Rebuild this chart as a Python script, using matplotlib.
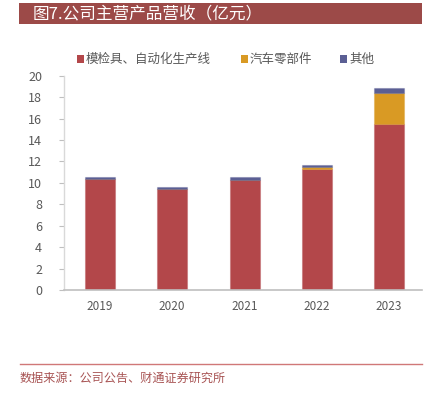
import matplotlib.pyplot as plt
from matplotlib.patches import Rectangle
from matplotlib.lines import Line2D
import numpy as np

plt.rcParams['font.family'] = ['Noto Sans CJK SC', 'DejaVu Sans']

# 数据（亿元）
years = ['2019', '2020', '2021', '2022', '2023']
mold_auto = [10.4, 9.4, 10.3, 11.3, 15.5]   # 模检具、自动化生产线
auto_parts = [0.0, 0.0, 0.0, 0.15, 2.85]     # 汽车零部件
others = [0.15, 0.2, 0.2, 0.25, 0.5]         # 其他
series_names = ['模检具、自动化生产线', '汽车零部件', '其他']
colors = ['#B3474A', '#D99A24', '#5B5F94']

fig = plt.figure(figsize=(4.35, 3.98), dpi=100)
W, H = 435, 398
ax = fig.add_axes([63.7 / W, 1 - 290 / H, (421.7 - 63.7) / W, (290 - 75.7) / H])

x = np.arange(len(years))
bottom = np.zeros(len(years))
for vals, c in zip([mold_auto, auto_parts, others], colors):
    ax.bar(x, vals, width=0.415, bottom=bottom, color=c,
           edgecolor=c + '55', linewidth=0.8)
    bottom += np.array(vals)

ax.set_ylim(0, 20)
ax.set_xlim(-0.5, 4.45)
ax.set_yticks(np.arange(0, 21, 2))
ax.set_xticks(x)
ax.set_xticklabels(years)
ax.tick_params(axis='y', length=3.5, color='#BFBFBF', labelsize=9, labelcolor='#595959', pad=12)
ax.tick_params(axis='x', length=0, labelsize=8.5, labelcolor='#595959', pad=7)
for s in ['top', 'right']:
    ax.spines[s].set_visible(False)
ax.spines['left'].set_color('#D9D9D9')
ax.spines['bottom'].set_color('#BFBFBF')
ax.spines['left'].set_linewidth(1.0)
ax.spines['bottom'].set_linewidth(1.2)

# 标题条
fig.patches.append(Rectangle((19.3 / W, 1 - 24.3 / H), (422.3 - 19.3) / W, 21.6 / H,
                             transform=fig.transFigure, facecolor='#9C4A48', edgecolor='none'))
fig.text(33 / W, 1 - 13.5 / H, '图7.公司主营产品营收（亿元）', color='white', fontsize=12,
         va='center', ha='left')

# 图例
leg_x = [77, 241, 340]
for lx, name, c in zip(leg_x, series_names, colors):
    fig.patches.append(Rectangle((lx / W, 1 - 62.5 / H), 7 / W, 7 / H,
                                 transform=fig.transFigure, facecolor=c, edgecolor='none'))
    fig.text((lx + 9) / W, 1 - 59 / H, name, fontsize=9, color='#595959', va='center', ha='left')

# 底部来源
fig.add_artist(Line2D([20 / W, 422 / W], [1 - 364.3 / H, 1 - 364.3 / H],
                      transform=fig.transFigure, color='#D07878', linewidth=1.0))
fig.text(20 / W, 1 - 378.5 / H, '数据来源：公司公告、财通证券研究所', fontsize=8.7,
         color='#A85454', va='center', ha='left')

fig.savefig('out.png', dpi=100)
